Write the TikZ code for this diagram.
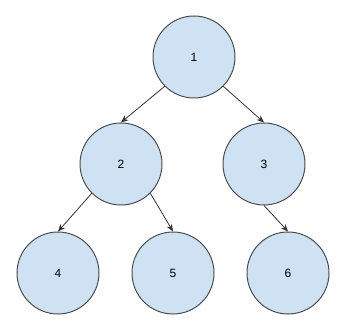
\documentclass[tikz,border=0pt]{standalone}
\usepackage{fontspec}
\setmainfont{Liberation Sans}
\usetikzlibrary{arrows.meta}

\definecolor{nodefill}{HTML}{CFE2F3}
\definecolor{nodeline}{HTML}{4D4D4D}
\definecolor{edgeline}{HTML}{333333}

\begin{document}
\begin{tikzpicture}[x=0.75pt, y=-0.75pt, >={Stealth[length=5.5pt,width=4.5pt]}]

\tikzset{
  vertex/.style={
    circle, draw=nodeline, fill=nodefill, line width=0.75pt,
    minimum size=61.5pt, inner sep=0pt, font=\fontsize{9}{11}\selectfont
  },
  arrow/.style={->, draw=edgeline, line width=0.6pt}
}

\useasboundingbox[fill=white] (0,0) rectangle (363,327);

% ==========================
% Tree nodes
% ==========================
\node[vertex] (n1) at (194,57) {1};

\node[vertex] (n2) at (121,164) {2};
\node[vertex] (n3) at (264,164) {3};

\node[vertex] (n4) at (58,273) {4};
\node[vertex] (n5) at (173,273) {5};
\node[vertex] (n6) at (288,273) {6};

% ==========================
% Edges (parent -> child)
% ==========================
\draw[arrow] (n1.-135) -- (n2.north);
\draw[arrow] (n1.-45) -- (n3.north);
\draw[arrow] (n2.-135) -- (n4.north);
\draw[arrow] (n2.-45) -- (n5.north);
\draw[arrow] (n3.south) -- (n6.north);

\end{tikzpicture}
\end{document}
